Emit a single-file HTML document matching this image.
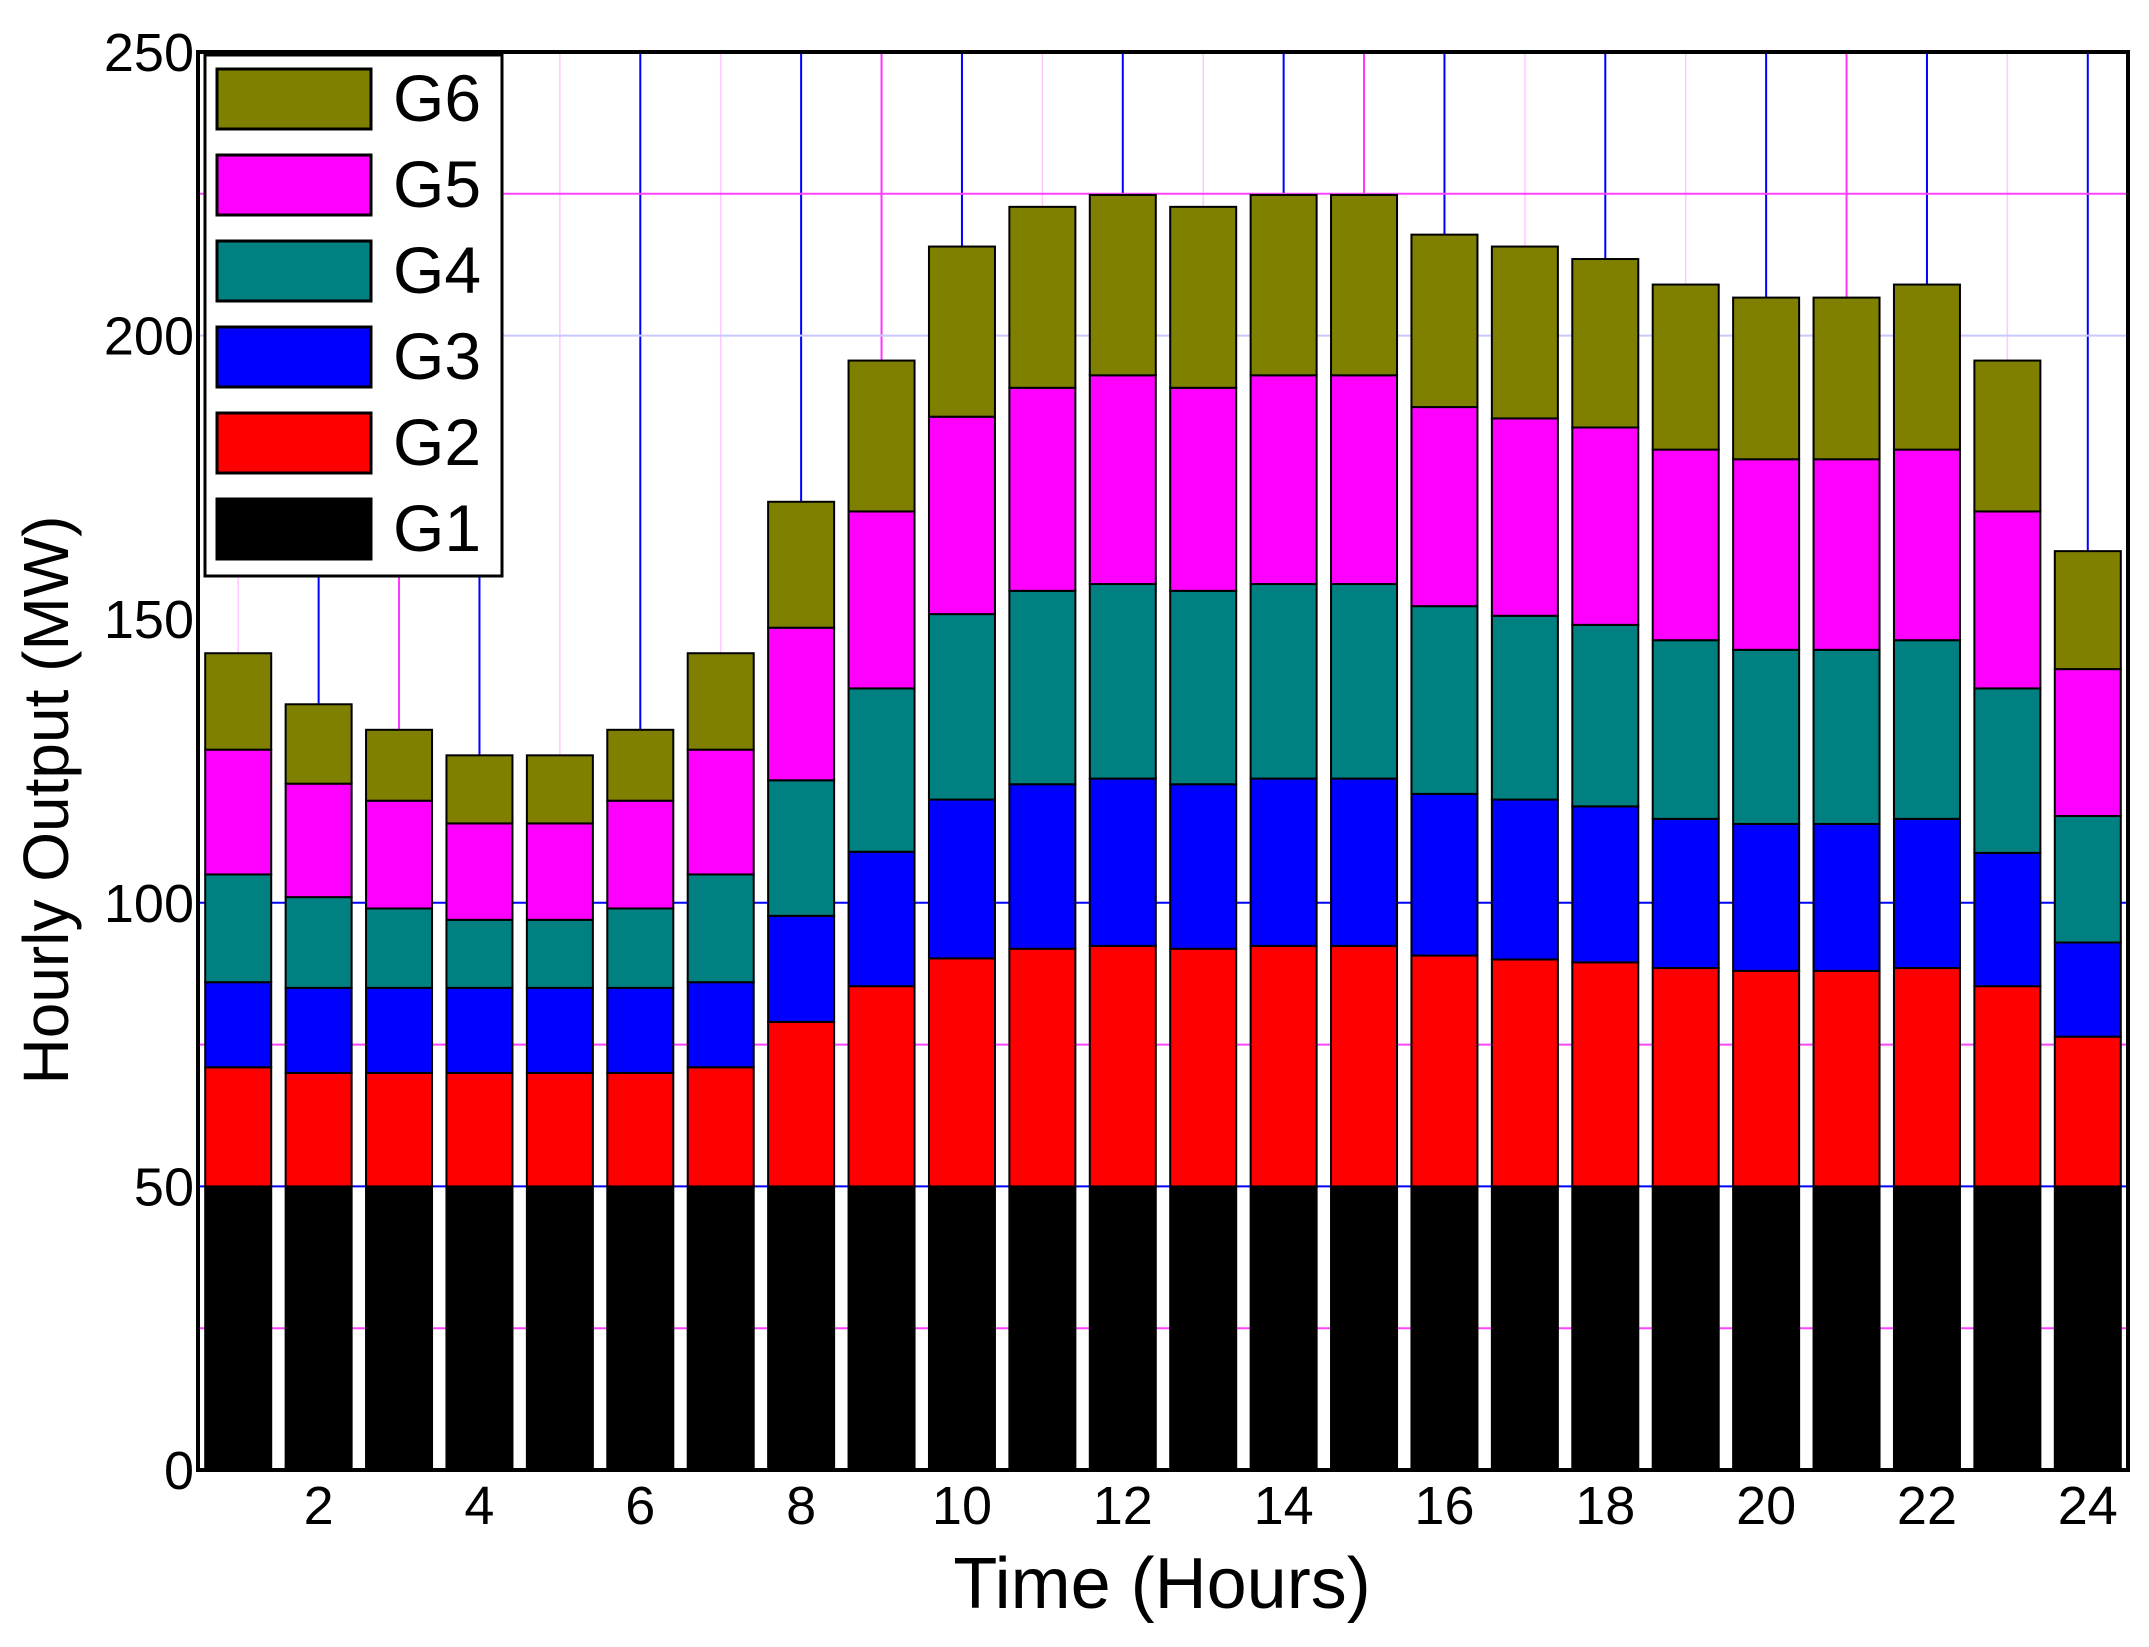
<!DOCTYPE html>
<html><head><meta charset="utf-8"><style>
html,body{margin:0;padding:0;background:#fff;}
svg{display:block;font-family:"Liberation Sans",Arial,sans-serif;}
</style></head><body>
<svg id="chart" width="2149" height="1647" viewBox="0 0 2149 1647" xmlns="http://www.w3.org/2000/svg">
<rect x="0" y="0" width="2149" height="1647" fill="#fff"/>
<g id="grid"></g>
<g id="bars"></g>
<rect x="198" y="52" width="1930" height="1418" fill="none" stroke="#000" stroke-width="4"/>
<g id="ticks"></g>
<text x="1162" y="1608" font-size="72" text-anchor="middle">Time (Hours)</text>
<text transform="translate(68,800) rotate(-90)" font-size="64" text-anchor="middle">Hourly Output (MW)</text>
<g id="legend"></g>
</svg>
<script>
const hours = [1,2,3,4,5,6,7,8,9,10,11,12,13,14,15,16,17,18,19,20,21,22,23,24];
const seriesNames = ["G1","G2","G3","G4","G5","G6"];
const seriesColors = ["#000000","#ff0000","#0000ff","#008080","#ff00ff","#808000"];
// cumulative tops
const topG1 = [50,50,50,50,50,50,50,50,50,50,50,50,50,50,50,50,50,50,50,50,50,50,50,50];
const topG2 = [71,70,70,70,70,70,71,79,85.3,90.2,91.9,92.4,91.9,92.4,92.4,90.7,90,89.5,88.5,88,88,88.5,85.3,76.4];
const topG3 = [86,85,85,85,85,85,86,97.7,109,118.2,120.9,121.9,120.9,121.9,121.9,119.2,118.2,117,114.8,113.9,113.9,114.8,108.8,93];
const topG4 = [105,101,99,97,97,99,105,121.6,137.8,150.9,155,156.2,155,156.2,156.2,152.3,150.6,149,146.3,144.6,144.6,146.3,137.8,115.3];
const topG5 = [127,121,118,114,114,118,127,148.5,169,185.7,190.8,193,190.8,193,193,187.4,185.4,183.8,179.9,178.2,178.2,179.9,169,141.2];
const topG6 = [144,135,130.5,126,126,130.5,144,170.7,195.6,215.7,222.7,224.8,222.7,224.8,224.8,217.8,215.7,213.5,209,206.7,206.7,209,195.6,162];
const yTicks = [0,50,100,150,200,250];
const xTicks = [2,4,6,8,10,12,14,16,18,20,22,24];

const NS="http://www.w3.org/2000/svg";
const L=198,R=2128,T=52,B=1470;
const xMin=0.5,xMax=24.5,yMin=0,yMax=250;
const xs=v=>L+(v-xMin)/(xMax-xMin)*(R-L);
const ys=v=>B-(v-yMin)/(yMax-yMin)*(B-T);
function mk(tag,attrs,parent){const e=document.createElementNS(NS,tag);for(const k in attrs)e.setAttribute(k,attrs[k]);parent.appendChild(e);return e;}

const grid=document.getElementById('grid');
const strongOdd=[3,9,15,21];
for(let h=1;h<=24;h++){
  let col,w;
  if(h%2===0){col='#0000ff';w=2;}
  else if(strongOdd.includes(h)){col='#ff33ff';w=2;}
  else {col='#ffc8ff';w=1.5;}
  const ln=mk('line',{x1:xs(h),x2:xs(h),y1:T,y2:B,stroke:col,'stroke-width':w},grid);
  
  
}
[25,50,75,100,200,225].forEach(v=>{
  const col=v===200?'#c8c8ff':(v%50===0?'#0000ff':'#ff44ff');
  const ln=mk('line',{x1:L,x2:R,y1:ys(v),y2:ys(v),stroke:col,'stroke-width':2},grid);
  
  
});

const bars=document.getElementById('bars');
const tops=[topG1,topG2,topG3,topG4,topG5,topG6];
const bw=66;
hours.forEach((h,i)=>{
  let prev=0;
  tops.forEach((arr,s)=>{
    const v=arr[i];
    const r=mk('rect',{x:xs(h)-bw/2,y:ys(v),width:bw,height:ys(prev)-ys(v),fill:seriesColors[s],stroke:'#000','stroke-width':2},bars);
    
    
    prev=v;
  });
});

const ticks=document.getElementById('ticks');
yTicks.forEach(v=>{
  const t=mk('text',{x:L-4,y:ys(v)+19,'font-size':54,'text-anchor':'end'},ticks);
  t.textContent=v;
  
  
});
xTicks.forEach(v=>{
  const t=mk('text',{x:xs(v),y:B+54,'font-size':54,'text-anchor':'middle'},ticks);
  t.textContent=v;
  
  
});

const lg=document.getElementById('legend');
const box=mk('rect',{x:205,y:55,width:297,height:521,fill:'#fff',stroke:'#000','stroke-width':3},lg);


for(let k=0;k<6;k++){
  const s=5-k;
  const y=69+k*86;
  const sw=mk('rect',{x:217,y:y,width:154,height:60,fill:seriesColors[s],stroke:'#000','stroke-width':3},lg);
  
  
  const t=mk('text',{x:393,y:y+52,'font-size':66},lg);
  t.textContent=seriesNames[s];
  
  
}
</script>
</body></html>
